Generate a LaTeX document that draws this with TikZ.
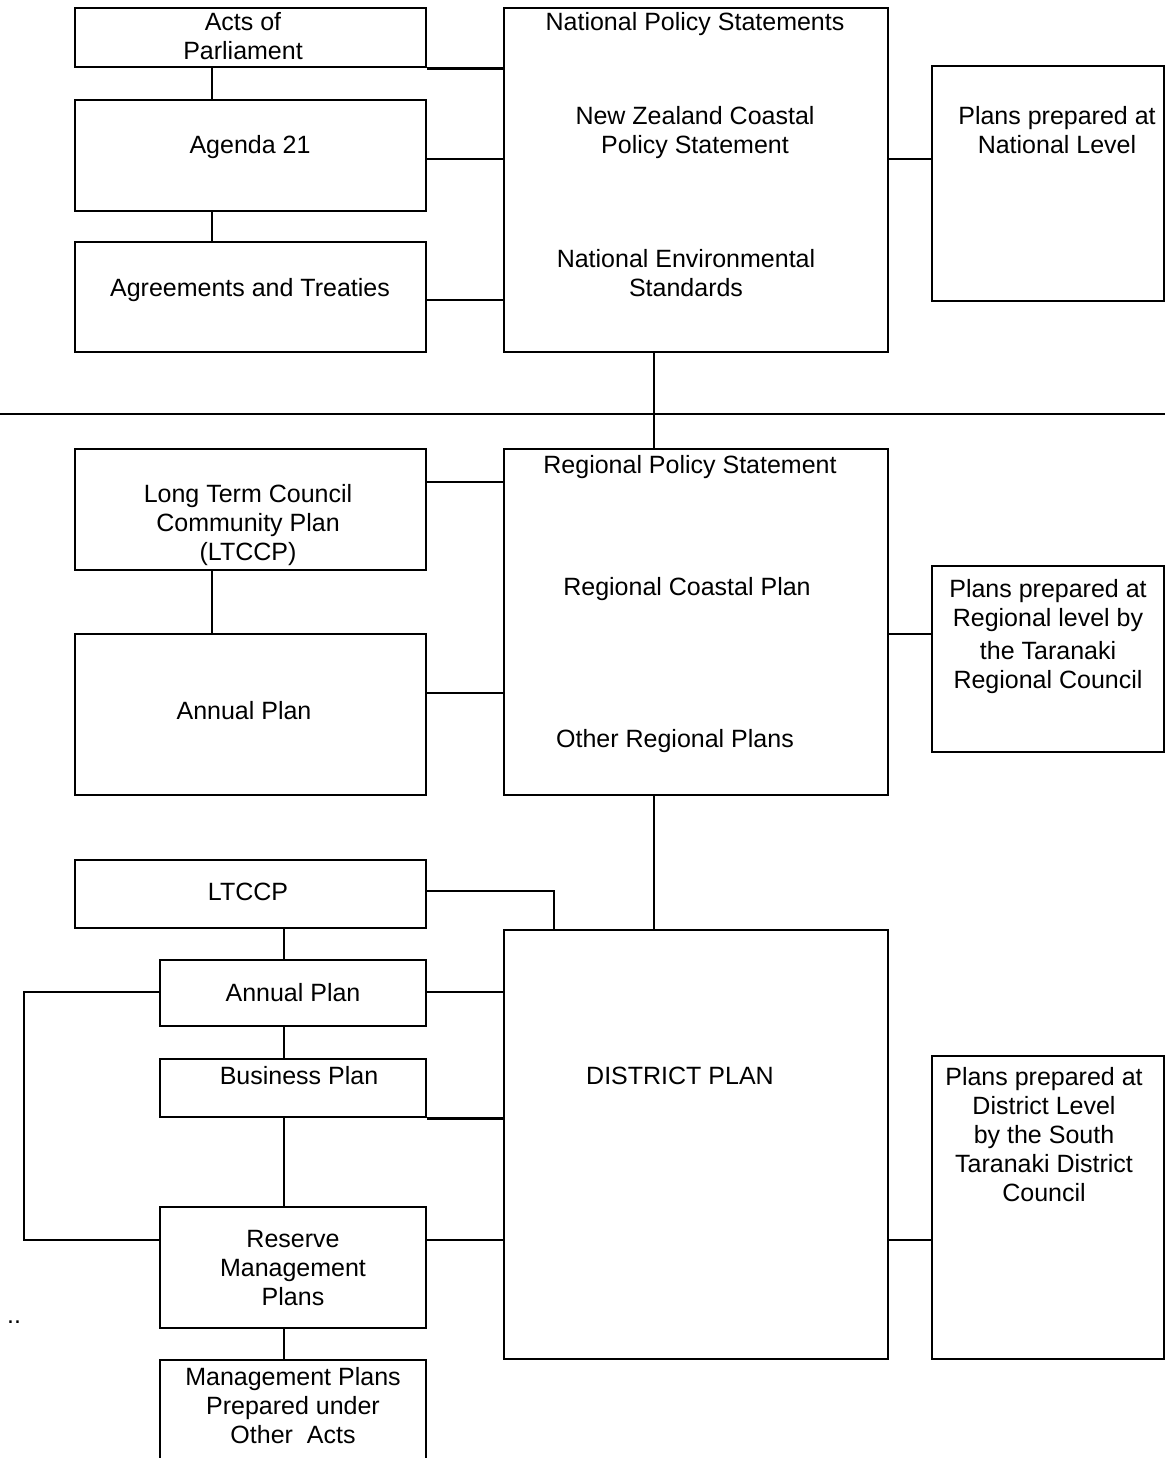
\documentclass[tikz,border=0pt]{standalone}
\usepackage{fontspec}
\setmainfont{Liberation Sans}
\begin{document}
\begin{tikzpicture}[x=1pt,y=-1pt,
  line width=2.8pt,
  box/.style={draw, rectangle, inner sep=0pt, line width=2.8pt},
  lbl/.style={anchor=base, align=center, inner sep=0pt, font=\fontsize{25}{29}\selectfont},
  conn/.style={draw, line width=2.8pt}]
\useasboundingbox (0,0) rectangle (1165,1458);
\clip (0,0) rectangle (1165,1458);
% boxes
\node[box, minimum width=351pt, minimum height=59pt]  (acts)      at (250.5,37.5) {};
\node[box, minimum width=351pt, minimum height=111pt] (agenda)    at (250.5,155.5) {};
\node[box, minimum width=351pt, minimum height=110pt] (agree)     at (250.5,297) {};
\node[box, minimum width=384pt, minimum height=344pt] (nat)       at (696,180) {};
\node[box, minimum width=232pt, minimum height=235pt] (natplans)  at (1048,183.5) {};
\node[box, minimum width=384pt, minimum height=346pt] (reg)       at (696,622) {};
\node[box, minimum width=351pt, minimum height=121pt] (ltccpa)    at (250.5,509.5) {};
\node[box, minimum width=351pt, minimum height=161pt] (annuala)   at (250.5,714.5) {};
\node[box, minimum width=232pt, minimum height=186pt] (regplans)  at (1048,659) {};
\node[box, minimum width=351pt, minimum height=68pt]  (ltccpb)    at (250.5,894) {};
\node[box, minimum width=384pt, minimum height=429pt] (dist)      at (696,1144.5) {};
\node[box, minimum width=266pt, minimum height=66pt]  (annualb)   at (293,993) {};
\node[box, minimum width=266pt, minimum height=58pt]  (business)  at (293,1088) {};
\node[box, minimum width=266pt, minimum height=121pt] (reserve)   at (293,1267.5) {};
\node[box, minimum width=266pt, minimum height=140pt] (mgmt)      at (293,1430) {};
\node[box, minimum width=232pt, minimum height=303pt] (distplans) at (1048,1207.5) {};
% texts (anchor = baseline of the last line)
\node[lbl] (tacts)   at (243,60)  {Acts of\\Parliament};
\node[lbl] (tagenda) at (250,154) {Agenda 21};
\node[lbl] (tagree)  at (250,296) {Agreements and Treaties};
\node[lbl] (tnps)    at (695,31)  {National Policy Statements};
\node[lbl] (tnzcps)  at (695,154) {New Zealand Coastal\\Policy Statement};
\node[lbl] (tnes)    at (686,296) {National Environmental\\Standards};
\node[lbl] (tnatpl)  at (1057,154) {Plans prepared at\\National Level};
\node[lbl] (trps)    at (690,473) {Regional Policy Statement};
\node[lbl] (trcp)    at (687,595) {Regional Coastal Plan};
\node[lbl] (torp)    at (675,747) {Other Regional Plans};
\node[lbl] (tregpl)  at (1048,688) {Plans prepared at\\Regional level by\\[4pt]the Taranaki\\Regional Council};
\node[lbl] (tltccpa) at (248,560) {Long Term Council\\Community Plan\\(LTCCP)};
\node[lbl] (tanna)   at (244,719) {Annual Plan};
\node[lbl] (tltccpb) at (248,900) {LTCCP};
\node[lbl] (tannb)   at (293,1001) {Annual Plan};
\node[lbl] (tbus)    at (299,1084) {Business Plan};
\node[lbl] (tdist)   at (680,1084) {DISTRICT PLAN};
\node[lbl] (tdistpl) at (1044,1201) {Plans prepared at\\District Level\\by the South\\Taranaki District\\Council};
\node[lbl] (tres)    at (293,1305) {Reserve\\Management\\Plans};
\node[lbl] (tmgmt)   at (293,1443) {Management Plans\\Prepared under\\Other\ \ Acts};
\node[lbl] (tdots)   at (14,1323) {..};
% divider
\coordinate (divl) at (0,414);
\coordinate (divr) at (1165,414);
\draw[conn] (divl) -- (divr);
% national level connectors
\draw[conn] (acts.south east) -- (nat.west |- acts.south east);
\draw[conn] (agenda.east |- 0,159) -- (nat.west |- 0,159);
\draw[conn] (agree.east |- 0,300) -- (nat.west |- 0,300);
\draw[conn] (acts.south -| 212,0) -- (agenda.north -| 212,0);
\draw[conn] (agenda.south -| 212,0) -- (agree.north -| 212,0);
\draw[conn] (nat.east |- 0,159) -- (natplans.west |- 0,159);
\draw[conn] (nat.south -| 654,0) -- (reg.north -| 654,0);
% regional level connectors
\draw[conn] (ltccpa.east |- 0,482) -- (reg.west |- 0,482);
\draw[conn] (annuala.east |- 0,693) -- (reg.west |- 0,693);
\draw[conn] (ltccpa.south -| 212,0) -- (annuala.north -| 212,0);
\draw[conn] (reg.east |- 0,634) -- (regplans.west |- 0,634);
\draw[conn] (reg.south -| 654,0) -- (dist.north -| 654,0);
% district level connectors
\draw[conn] (ltccpb.east |- 0,891) -| (dist.north -| 554,0);
\draw[conn] (annualb.east |- 0,992) -- (dist.west |- 0,992);
\draw[conn] (ltccpb.south -| 284,0) -- (annualb.north -| 284,0);
\draw[conn] (annualb.south -| 284,0) -- (business.north -| 284,0);
\draw[conn] (business.south east) -- (dist.west |- business.south east);
\draw[conn] (business.south -| 284,0) -- (reserve.north -| 284,0);
\draw[conn] (reserve.east |- 0,1240) -- (dist.west |- 0,1240);
\draw[conn] (annualb.west |- 0,992) -- (24,992) -- (24,1240) -- (reserve.west |- 0,1240);
\draw[conn] (reserve.south -| 284,0) -- (mgmt.north -| 284,0);
\draw[conn] (dist.east |- 0,1240) -- (distplans.west |- 0,1240);
\end{tikzpicture}
\end{document}
